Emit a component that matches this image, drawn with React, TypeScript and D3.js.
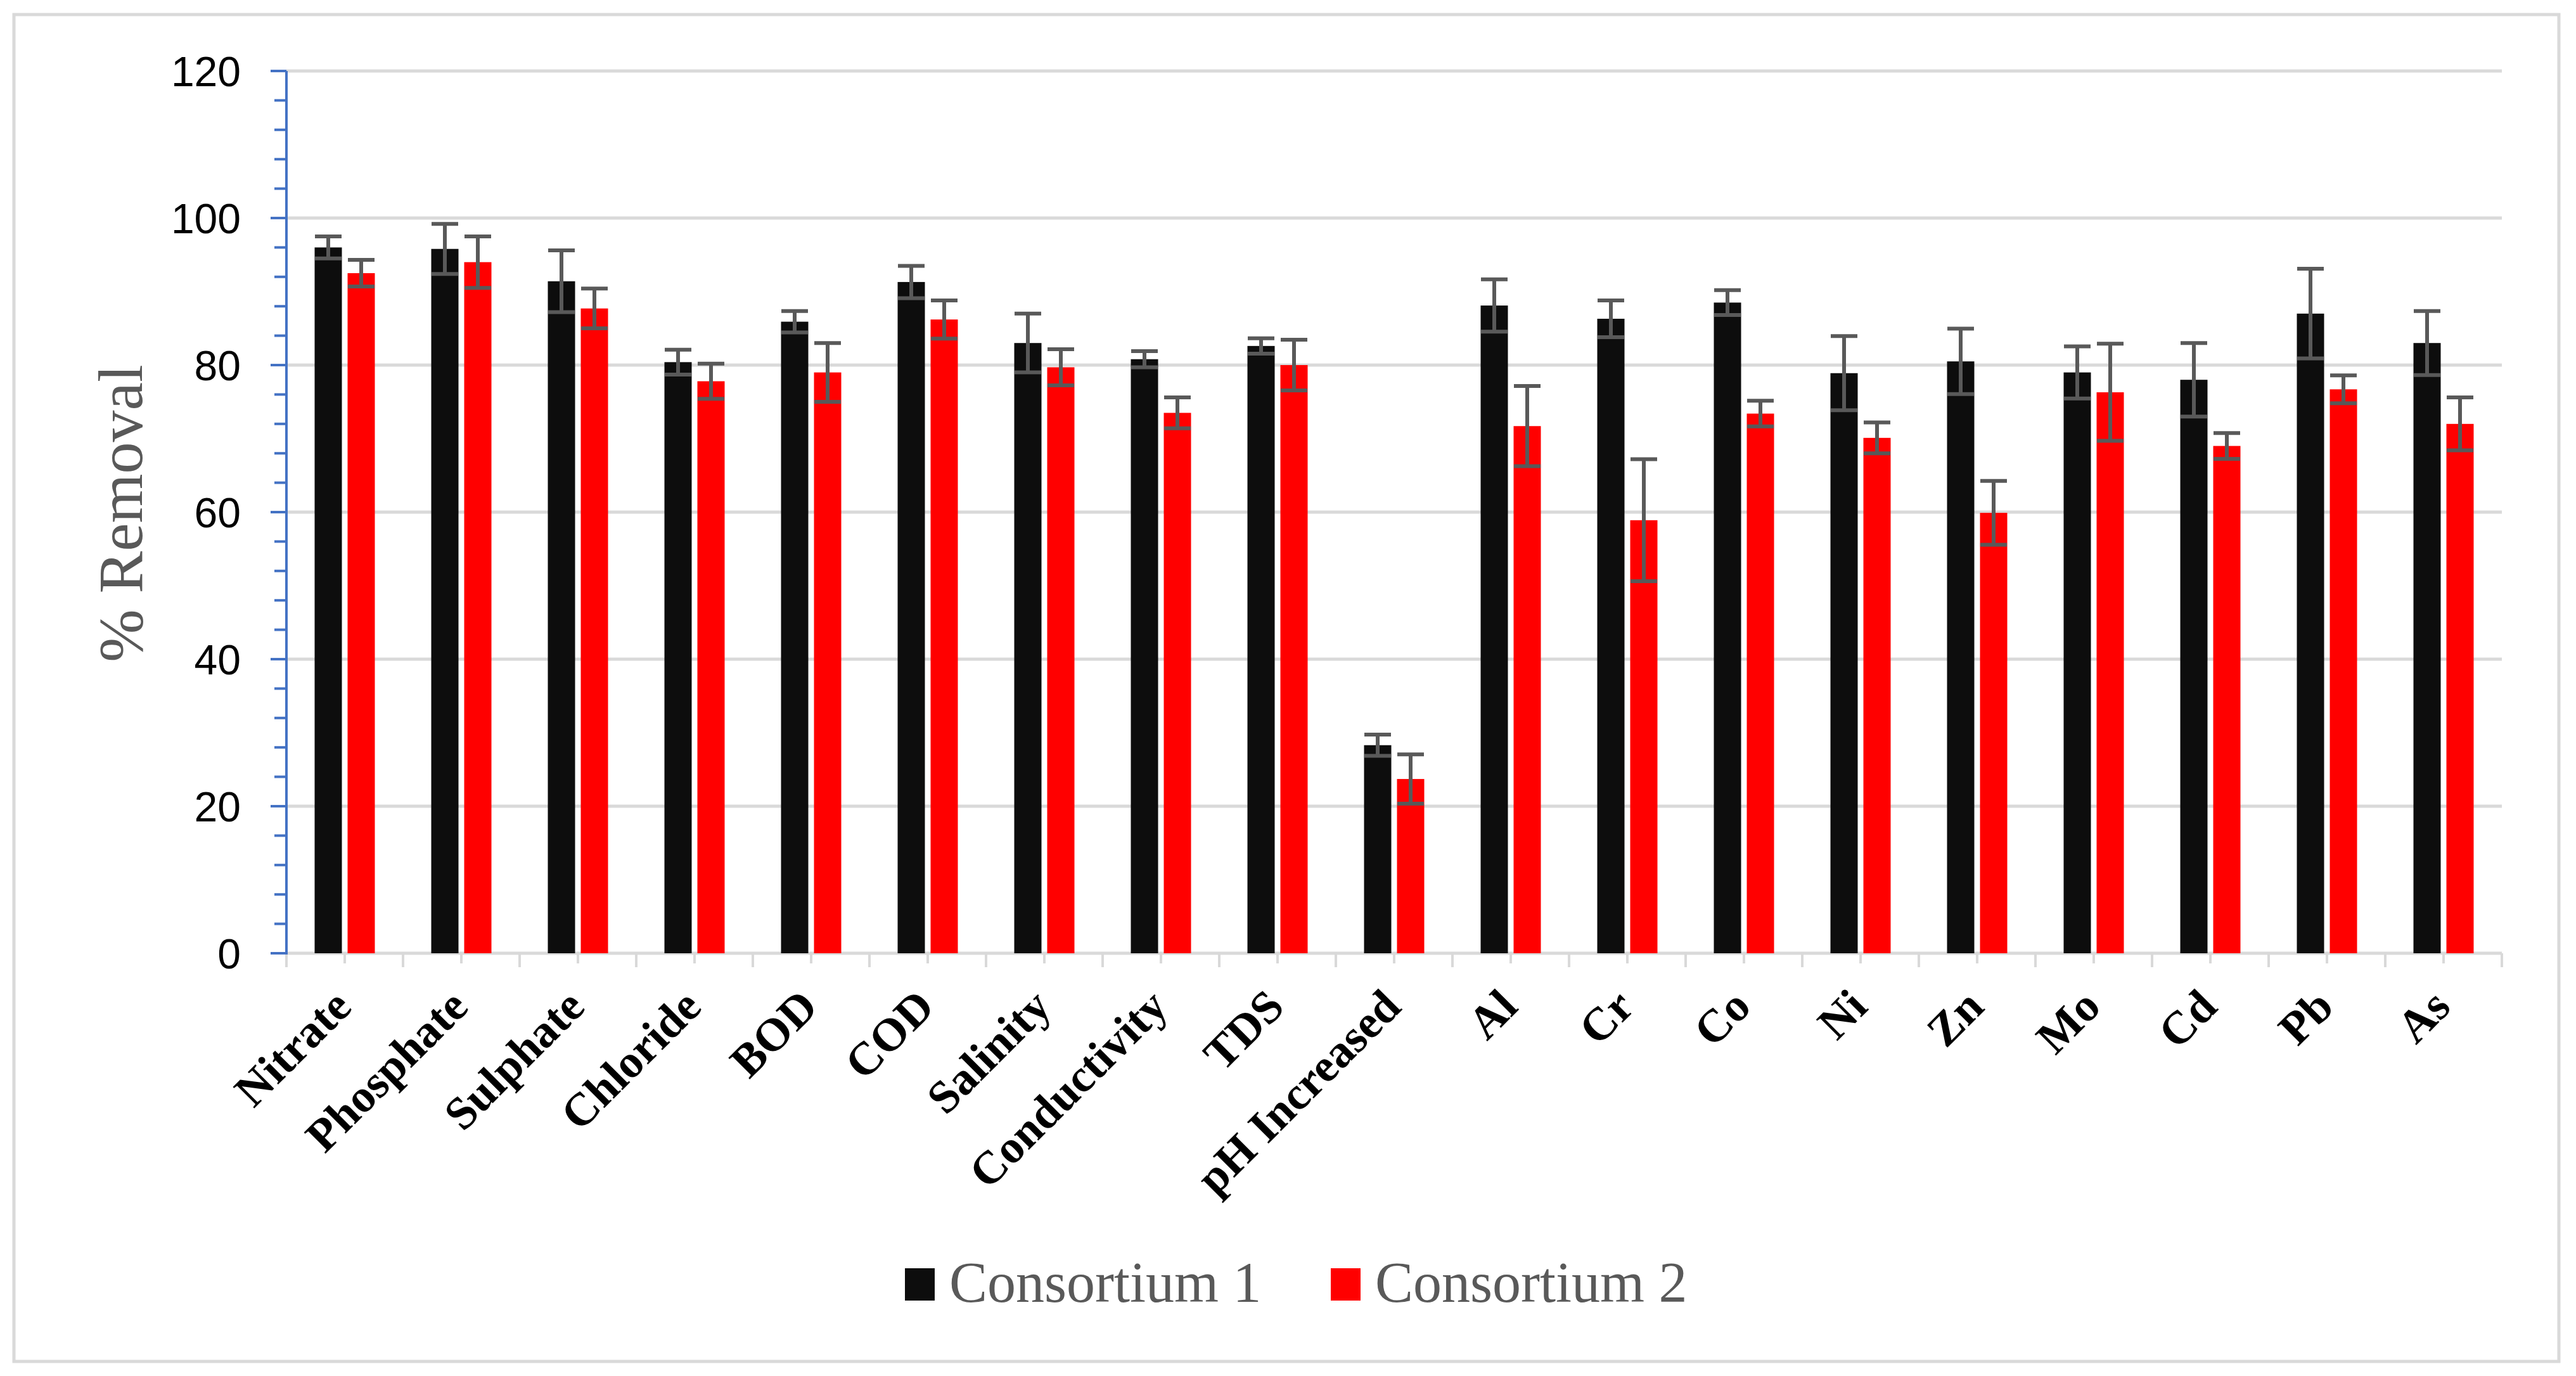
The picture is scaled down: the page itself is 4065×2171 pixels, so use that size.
import { useEffect, useRef } from 'react';
import * as d3 from 'd3';

const categories = ["Nitrate", "Phosphate", "Sulphate", "Chloride", "BOD", "COD", "Salinity", "Conductivity", "TDS", "pH Increased", "Al", "Cr", "Co", "Ni", "Zn", "Mo", "Cd", "Pb", "As"];
const consortium1 = [96.0, 95.8, 91.4, 80.4, 85.9, 91.3, 83.0, 80.8, 82.6, 28.3, 88.1, 86.3, 88.5, 78.9, 80.5, 79.0, 78.0, 87.0, 83.0];
const consortium1Err = [1.5, 3.4, 4.2, 1.7, 1.45, 2.2, 4.0, 1.1, 1.05, 1.45, 3.55, 2.5, 1.7, 5.05, 4.45, 3.55, 5.0, 6.1, 4.35];
const consortium2 = [92.5, 94.0, 87.7, 77.8, 79.0, 86.2, 79.7, 73.5, 80.0, 23.7, 71.7, 58.9, 73.4, 70.1, 59.9, 76.3, 69.0, 76.7, 72.0];
const consortium2Err = [1.8, 3.5, 2.7, 2.4, 4.0, 2.6, 2.45, 2.1, 3.45, 3.35, 5.45, 8.3, 1.75, 2.1, 4.35, 6.6, 1.75, 1.9, 3.6];
const yTicks = [0, 20, 40, 60, 80, 100, 120];
const seriesNames = ["Consortium 1", "Consortium 2"];
const seriesColors = ["#0d0d0d", "#ff0000"];

export default function App() {
  const svgRef = useRef<SVGSVGElement>(null);

  useEffect(() => {
    if (!svgRef.current) return;
    const width = 4065;
    const height = 2171;
    const left = 452, right = 3948, top = 112, bottom = 1504;

    const svg = d3.select(svgRef.current);
    svg.selectAll("*").remove();

    svg.append("rect").attr("width", width).attr("height", height).attr("fill", "#fff");
    // outer chart border
    svg.append("rect")
      .attr("x", 22).attr("y", 23)
      .attr("width", 4016).attr("height", 2125)
      .attr("fill", "none").attr("stroke", "#d9d9d9").attr("stroke-width", 5);

    const x = d3.scaleBand<string>().domain(categories).range([left, right]).paddingInner(0).paddingOuter(0);
    const y = d3.scaleLinear().domain([0, 120]).range([bottom, top]);

    // gridlines
    svg.append("g").selectAll("line")
      .data(yTicks.filter(t => t > 0))
      .join("line")
      .attr("x1", left).attr("x2", right)
      .attr("y1", d => y(d)).attr("y2", d => y(d))
      .attr("stroke", "#d9d9d9").attr("stroke-width", 5);

    // x axis line and ticks
    svg.append("line")
      .attr("x1", left).attr("x2", right)
      .attr("y1", bottom).attr("y2", bottom)
      .attr("stroke", "#d9d9d9").attr("stroke-width", 5);

    const xt = svg.append("g");
    categories.forEach((c, i) => {
      const x0 = x(c)!;
      xt.append("line").attr("x1", x0).attr("x2", x0).attr("y1", bottom).attr("y2", bottom + 22)
        .attr("stroke", "#d9d9d9").attr("stroke-width", 4);
      xt.append("line").attr("x1", x0 + x.bandwidth() / 2).attr("x2", x0 + x.bandwidth() / 2)
        .attr("y1", bottom).attr("y2", bottom + 16)
        .attr("stroke", "#d9d9d9").attr("stroke-width", 4);
      if (i === categories.length - 1) {
        xt.append("line").attr("x1", right).attr("x2", right).attr("y1", bottom).attr("y2", bottom + 22)
          .attr("stroke", "#d9d9d9").attr("stroke-width", 4);
      }
    });

    // bars
    const barW = 43, gap = 9;
    const series = [
      { values: consortium1, err: consortium1Err, off: -gap / 2 - barW },
      { values: consortium2, err: consortium2Err, off: gap / 2 },
    ];
    series.forEach((s, si) => {
      const g = svg.append("g");
      g.selectAll("rect")
        .data(categories)
        .join("rect")
        .attr("x", c => x(c)! + x.bandwidth() / 2 + s.off)
        .attr("y", (c, i) => y(s.values[i]))
        .attr("width", barW)
        .attr("height", (c, i) => bottom - y(s.values[i]))
        .attr("fill", seriesColors[si]);

      const eb = svg.append("g").attr("stroke", "#595959").attr("stroke-width", 6);
      categories.forEach((c, i) => {
        const cx = x(c)! + x.bandwidth() / 2 + s.off + barW / 2;
        const hi = y(s.values[i] + s.err[i]);
        const lo = y(s.values[i] - s.err[i]);
        eb.append("line").attr("x1", cx).attr("x2", cx).attr("y1", hi).attr("y2", lo);
        eb.append("line").attr("x1", cx - 21).attr("x2", cx + 21).attr("y1", hi).attr("y2", hi);
        eb.append("line").attr("x1", cx - 21).attr("x2", cx + 21).attr("y1", lo).attr("y2", lo);
      });
    });

    // y axis
    const yAxis = svg.append("g");
    yAxis.append("line").attr("x1", left).attr("x2", left).attr("y1", top).attr("y2", bottom + 2)
      .attr("stroke", "#4472c4").attr("stroke-width", 4);
    d3.range(0, 121, 4).forEach(v => {
      const major = v % 20 === 0;
      yAxis.append("line")
        .attr("x1", left - (major ? 25 : 19)).attr("x2", left)
        .attr("y1", y(v)).attr("y2", y(v))
        .attr("stroke", "#4472c4").attr("stroke-width", 4);
    });
    yAxis.selectAll("text")
      .data(yTicks)
      .join("text")
      .attr("x", 380)
      .attr("y", d => y(d))
      .attr("dy", "0.36em")
      .attr("text-anchor", "end")
      .attr("font-family", "Liberation Sans, Arial, sans-serif")
      .attr("font-size", 66)
      .attr("fill", "#000")
      .text(d => d);

    // y title
    svg.append("text")
      .attr("transform", `translate(224,810) rotate(-90)`)
      .attr("text-anchor", "middle")
      .attr("font-family", "Liberation Serif, Times New Roman, serif")
      .attr("font-size", 100)
      .attr("fill", "#595959")
      .text("% Removal");

    // x labels
    svg.append("g").selectAll("text")
      .data(categories)
      .join("text")
      .attr("transform", c => `translate(${x(c)! + x.bandwidth() / 2 + 14},1592) rotate(-45)`)
      .attr("text-anchor", "end")
      .attr("font-family", "Liberation Serif, Times New Roman, serif")
      .attr("font-weight", "bold")
      .attr("font-size", 73)
      .attr("fill", "#000")
      .text(c => c);

    // legend
    const legendX = [1428, 2100];
    seriesNames.forEach((name, i) => {
      svg.append("rect")
        .attr("x", legendX[i]).attr("y", 2001)
        .attr("width", 47).attr("height", 51)
        .attr("fill", seriesColors[i]);
      svg.append("text")
        .attr("x", legendX[i] + 70).attr("y", 2054)
        .attr("font-family", "Liberation Serif, Times New Roman, serif")
        .attr("font-size", 90)
        .attr("fill", "#595959")
        .text(name);
    });
  }, []);

  return (
    <div style={{ position: "absolute", left: 0, top: 0 }}>
      <svg ref={svgRef} width={4065} height={2171} style={{ display: "block" }} />
    </div>
  );
}
